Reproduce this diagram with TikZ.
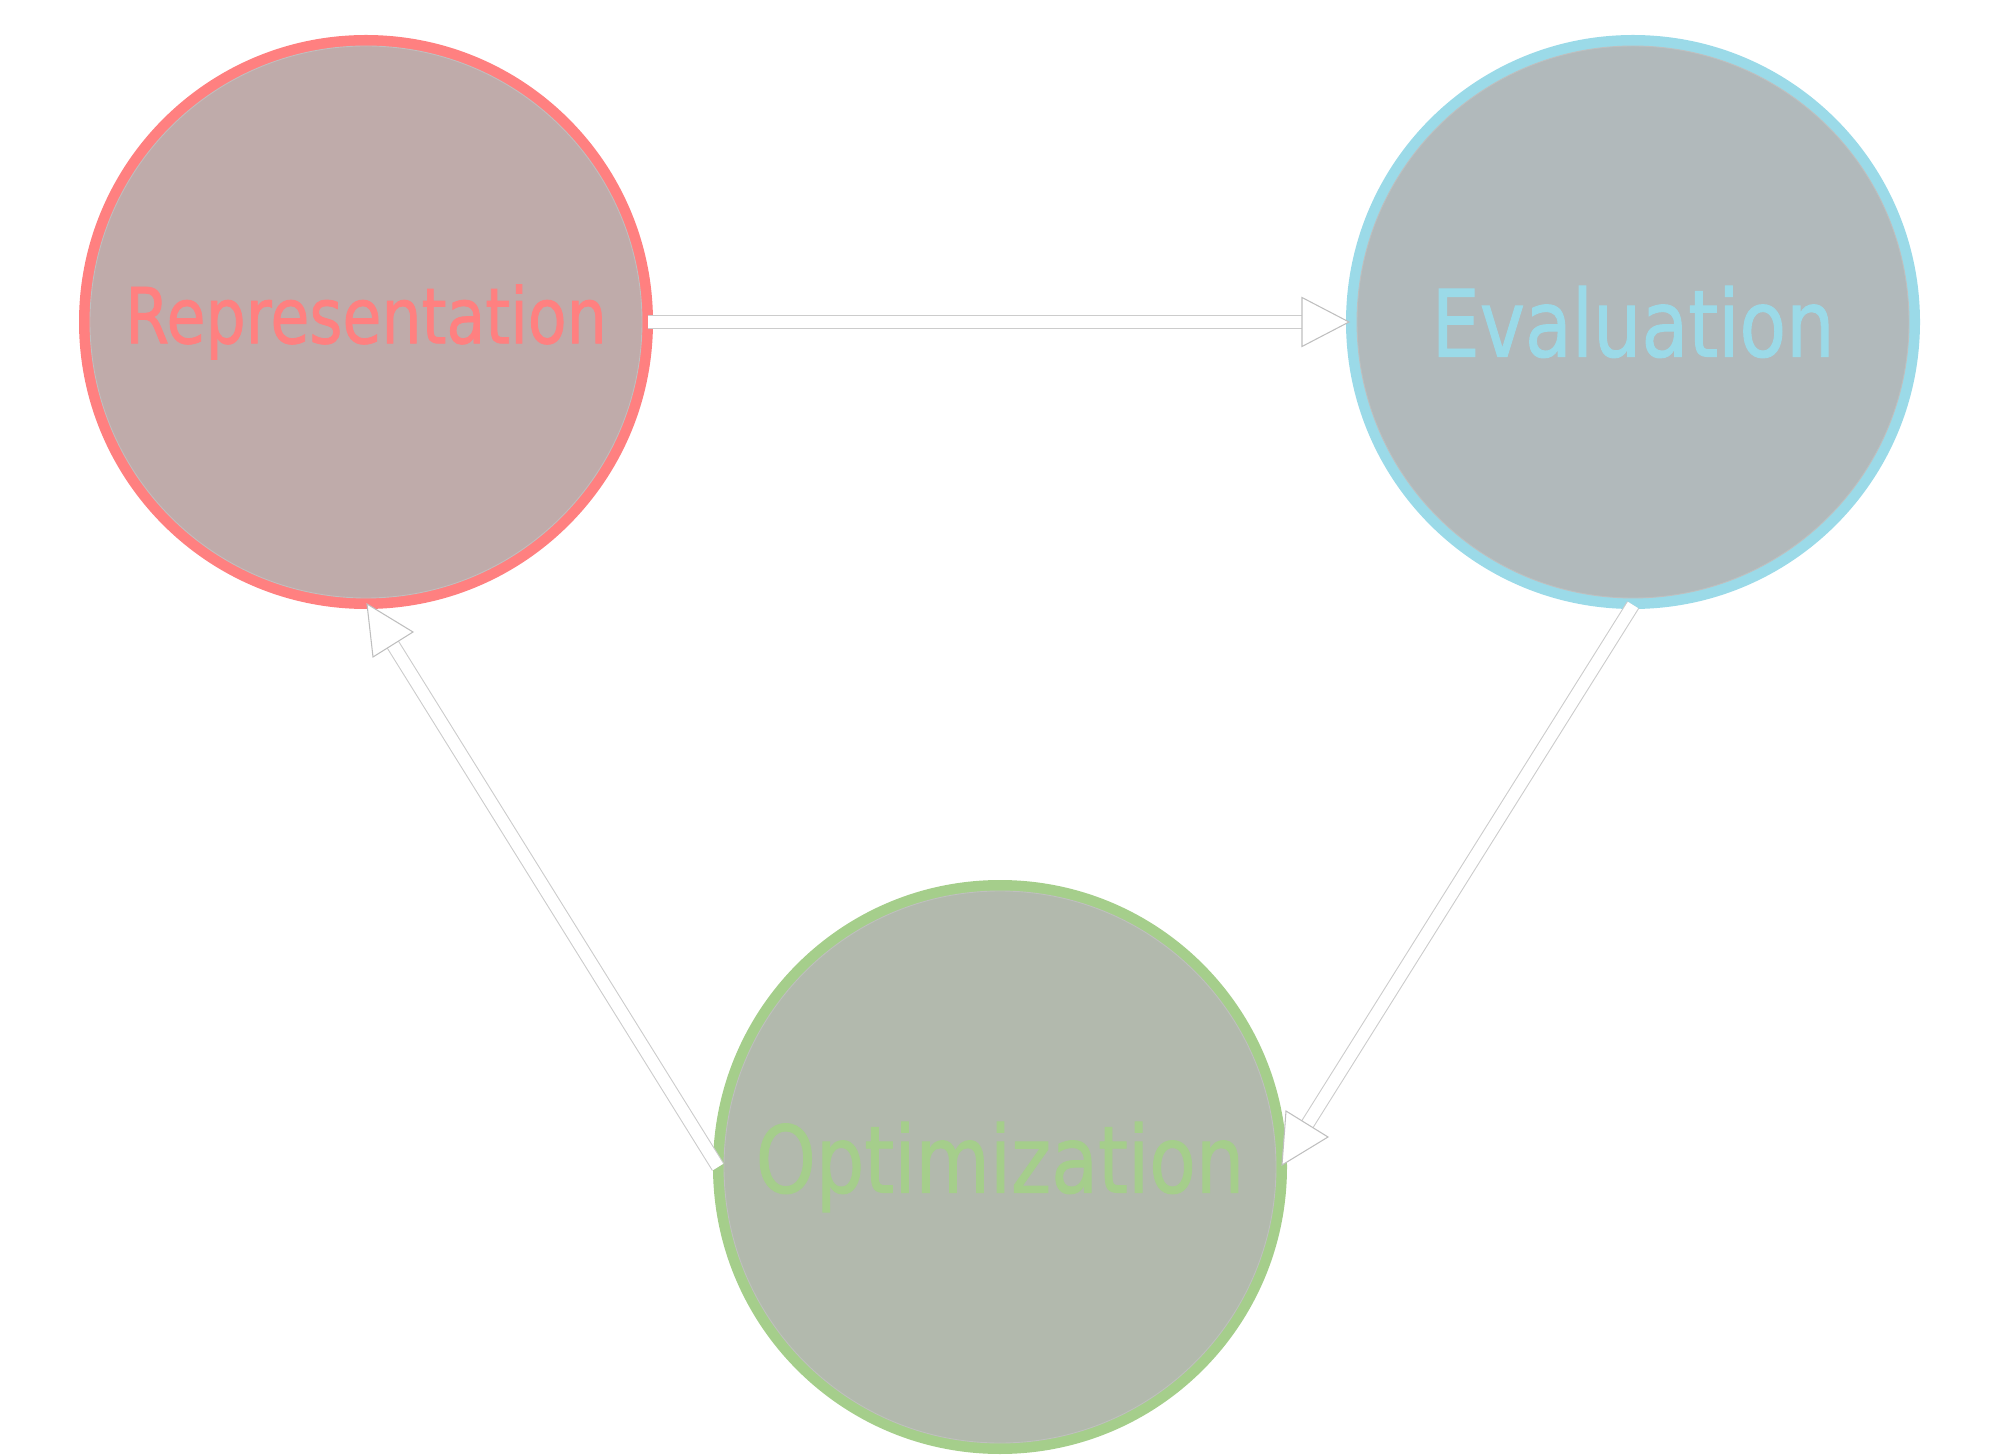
\documentclass[tikz,border=0pt]{standalone}
\usepackage{fontspec}
\usepackage{tikz}
\newfontfamily\nodefont{DejaVu Sans}[FakeStretch=0.82, FakeBold=1]
\definecolor{repline}{HTML}{FF8080}
\definecolor{repfill}{HTML}{BFABAA}
\definecolor{evalline}{HTML}{9BDAE8}
\definecolor{evalfill}{HTML}{B1B9BB}
\definecolor{optline}{HTML}{A5CE8B}
\definecolor{optfill}{HTML}{B2B9AD}
\tikzset{
    phase/.style = {circle, minimum size=5.63cm, inner sep=0pt, line width=0.11cm,
                    font=\nodefont\fontsize{26.5}{30}\selectfont},
    rim/.style   = {draw=black!25, line width=0.25pt},
    flow/.style  = {draw=black!20, line width=0.3pt, double=white, double distance=0.12cm},
    head/.style  = {draw=black!25, line width=0.3pt, fill=white}
}

\begin{document}
\begin{tikzpicture}
            \useasboundingbox (0,0) rectangle (20,14.54);
            \node[phase, draw=repline, fill=repfill, text=repline,
                  font=\nodefont\fontsize{22}{26}\selectfont] (rep) at (3.66,11.32) {Representation};
            \node[phase, draw=evalline, fill=evalfill, text=evalline] (eval) at (16.33,11.32) {Evaluation};
            \node[phase, draw=optline, fill=optfill, text=optline] (opt) at (10,2.87) {Optimization};
            \foreach \n in {rep,eval,opt}
                \draw[rim] (\n.center) circle (2.76);
            \coordinate (tip1) at ([xshift=0.03cm]eval.west);
            \coordinate (tip2) at ([xshift=0.41cm, yshift=0.30cm]opt.east);
            \coordinate (tip3) at ([xshift=0.47cm, yshift=-0.23cm]rep.south);
            \draw[flow] ([xshift=-0.05cm]rep.east) -- ([xshift=-0.40cm]tip1);
            \draw[flow] ([yshift=0.04cm]eval.south) -- ([xshift=-0.23cm, yshift=0.09cm]tip2);
            \draw[flow] ([xshift=0.05cm]opt.west) -- ([xshift=-0.23cm, yshift=-0.08cm]tip3);
            \draw[head] (tip1) -- +(-0.47,0.245) -- +(-0.47,-0.245) -- cycle;
            \draw[head] (tip2) -- +(-0.42,0.26) -- +(-0.46,-0.28) -- cycle;
            \draw[head] (tip3) -- +(-0.46,0.28) -- +(-0.40,-0.25) -- cycle;
\end{tikzpicture}
\end{document}
